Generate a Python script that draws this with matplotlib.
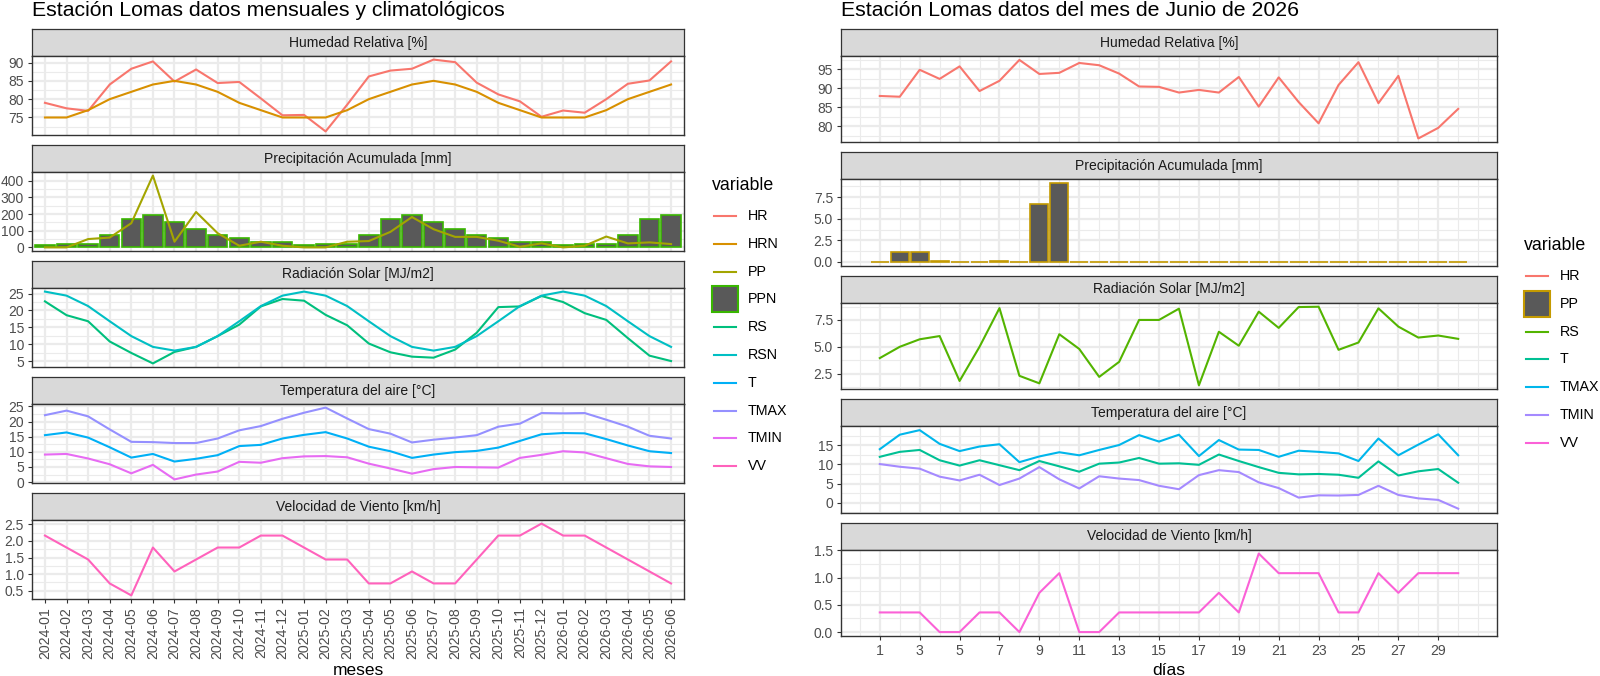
import matplotlib
matplotlib.use("Agg")
import matplotlib.pyplot as plt
from matplotlib.lines import Line2D
from matplotlib.patches import Rectangle

plt.rcParams["font.family"] = ["Liberation Sans", "DejaVu Sans"]

W, H = 1600, 676
DPI = 100

# --- datos mensuales (izquierda) ---
meses = ["2024-01", "2024-02", "2024-03", "2024-04", "2024-05", "2024-06",
         "2024-07", "2024-08", "2024-09", "2024-10", "2024-11", "2024-12",
         "2025-01", "2025-02", "2025-03", "2025-04", "2025-05", "2025-06",
         "2025-07", "2025-08", "2025-09", "2025-10", "2025-11", "2025-12",
         "2026-01", "2026-02", "2026-03", "2026-04", "2026-05", "2026-06"]
hr_m = [79.0, 77.5, 76.8, 84.0, 88.3, 90.3, 84.8, 88.1, 84.4, 84.7, 80.2, 75.6,
        75.7, 71.2, 78.5, 86.2, 87.8, 88.3, 90.8, 90.1, 84.5, 81.3, 79.4, 75.2,
        76.9, 76.3, 80.0, 84.2, 85.1, 90.3]
hrn_m = [75, 75, 77, 80, 82, 84, 85, 84, 82, 79, 77, 75,
         75, 75, 77, 80, 82, 84, 85, 84, 82, 79, 77, 75,
         75, 75, 77, 80, 82, 84]
pp_m = [0, 0, 50, 59, 145, 430, 34, 212, 85, 10, 34, 10,
        0, 0, 34, 38, 93, 182, 109, 63, 63, 40, 4, 24,
        0, 10, 65, 24, 30, 20]
ppn_m = [12, 20, 20, 77, 168, 196, 150, 113, 75, 55, 34, 34,
         12, 20, 20, 77, 168, 196, 150, 113, 75, 55, 34, 34,
         12, 20, 20, 77, 168, 196]
rs_m = [22.7, 18.6, 16.8, 10.8, 7.4, 4.3, 7.7, 9.2, 12.4, 15.8, 21.2, 23.4,
        22.9, 18.7, 15.6, 10.2, 7.6, 6.3, 6.0, 8.4, 13.4, 21.0, 21.2, 24.3,
        22.5, 19.2, 17.2, 11.8, 6.6, 5.0]
rsn_m = [25.6, 24.4, 21.3, 16.8, 12.4, 9.2, 8.1, 9.2, 12.4, 16.8, 21.3, 24.4,
         25.6, 24.4, 21.3, 16.8, 12.4, 9.2, 8.1, 9.2, 12.4, 16.8, 21.3, 24.4,
         25.6, 24.4, 21.3, 16.8, 12.4, 9.2]
t_m = [15.5, 16.4, 14.7, 11.5, 8.1, 9.3, 6.8, 7.7, 8.9, 11.9, 12.3, 14.4,
       15.6, 16.5, 14.4, 11.7, 10.2, 8.0, 9.1, 9.9, 10.3, 11.4, 13.6, 15.8,
       16.2, 16.1, 14.2, 12.1, 10.2, 9.6]
tmax_m = [22.1, 23.6, 21.7, 17.4, 13.3, 13.2, 12.9, 12.9, 14.4, 17.1, 18.5, 20.9,
          22.9, 24.6, 21.0, 17.5, 16.0, 13.1, 14.0, 14.7, 15.5, 18.3, 19.3, 22.8,
          22.7, 22.8, 20.6, 18.3, 15.3, 14.4]
tmin_m = [9.1, 9.3, 7.8, 5.9, 2.9, 5.7, 0.9, 2.5, 3.5, 6.7, 6.4, 7.9,
          8.5, 8.6, 8.2, 6.1, 4.5, 2.8, 4.3, 5.0, 4.9, 4.8, 8.0, 9.0,
          10.2, 9.8, 7.9, 6.0, 5.2, 5.0]
vv_m = [2.16, 1.80, 1.44, 0.72, 0.36, 1.80, 1.08, 1.44, 1.80, 1.80, 2.16, 2.16,
        1.80, 1.44, 1.44, 0.72, 0.72, 1.08, 0.72, 0.72, 1.44, 2.16, 2.16, 2.52,
        2.16, 2.16, 1.80, 1.44, 1.08, 0.72]

# --- datos diarios junio 2026 (derecha) ---
dias = list(range(1, 31))
hr_d = [88.0, 87.8, 94.9, 92.5, 95.8, 89.3, 92.0, 97.5, 93.8, 94.1,
        96.7, 96.1, 93.9, 90.5, 90.4, 88.9, 89.6, 88.9, 93.0, 85.2,
        92.9, 86.4, 80.8, 90.9, 96.9, 86.1, 93.3, 76.8, 79.6, 84.6]
pp_d = [0, 1.2, 1.2, 0.1, 0, 0, 0.15, 0, 6.7, 9.1,
        0, 0, 0, 0, 0, 0, 0, 0, 0, 0,
        0, 0, 0, 0, 0, 0, 0, 0, 0, 0]
rs_d = [3.95, 5.0, 5.7, 6.0, 1.82, 5.0, 8.6, 2.3, 1.6, 6.17,
        4.8, 2.2, 3.6, 7.5, 7.5, 8.55, 1.42, 6.4, 5.1, 8.27,
        6.76, 8.7, 8.73, 4.72, 5.4, 8.58, 6.88, 5.86, 6.05, 5.74]
t_d = [12.0, 13.3, 13.8, 11.1, 9.7, 11.1, 9.8, 8.5, 10.9, 9.5,
       8.1, 10.2, 10.5, 11.7, 10.2, 10.3, 9.9, 12.6, 10.9, 9.3,
       7.8, 7.4, 7.5, 7.3, 6.5, 10.8, 7.1, 8.2, 8.8, 5.2]
tmax_d = [14.0, 17.8, 19.0, 15.4, 13.5, 14.7, 15.3, 10.6, 12.1, 13.2,
          12.4, 13.8, 15.1, 17.7, 16.0, 17.8, 12.2, 16.4, 13.9, 13.8,
          12.0, 13.6, 13.3, 12.9, 10.9, 16.8, 12.4, 15.2, 17.9, 12.4]
tmin_d = [10.1, 9.4, 8.9, 6.8, 5.8, 7.3, 4.6, 6.3, 9.3, 6.1,
          3.7, 6.9, 6.3, 5.9, 4.4, 3.5, 7.2, 8.5, 8.0, 5.3,
          3.8, 1.3, 1.9, 1.85, 2.0, 4.4, 2.0, 1.1, 0.7, -1.6]
vv_d = [0.36, 0.36, 0.36, 0, 0, 0.36, 0.36, 0, 0.72, 1.08,
        0, 0, 0.36, 0.36, 0.36, 0.36, 0.36, 0.72, 0.36, 1.44,
        1.08, 1.08, 1.08, 0.36, 0.36, 1.08, 0.72, 1.08, 1.08, 1.08]

# --- paleta (ggplot hue) ---
COL_L = {"HR": "#F8766D", "HRN": "#D89000", "PP": "#A3A500", "PPN": "#39B600",
         "RS": "#00BF7D", "RSN": "#00BFC4", "T": "#00B0F6", "TMAX": "#9590FF",
         "TMIN": "#E76BF3", "VV": "#FF62BC"}
COL_R = {"HR": "#F8766D", "PP": "#C49A00", "RS": "#53B400", "T": "#00C094",
         "TMAX": "#00B6EB", "TMIN": "#A58AFF", "VV": "#FB61D7"}
BAR_FILL = "#595959"
STRIP_BG = "#D9D9D9"
BORDER = "#333333"
GRID = "#EBEBEB"
TICK_TXT = "#4D4D4D"
LW = 1.5

TITLES = ["Humedad Relativa [%]", "Precipitación Acumulada [mm]",
          "Radiación Solar [MJ/m2]", "Temperatura del aire [°C]",
          "Velocidad de Viento [km/h]"]


def px_axes(fig, x0, y0, x1, y1):
    """Axes placed by pixel box (origin top-left)."""
    return fig.add_axes([x0 / W, 1 - y1 / H, (x1 - x0) / W, (y1 - y0) / H])


def facet(fig, x0, x1, top, strip_h, panel_h, label):
    strip = px_axes(fig, x0, top, x1, top + strip_h)
    strip.set_facecolor(STRIP_BG)
    strip.set_xticks([])
    strip.set_yticks([])
    for s in strip.spines.values():
        s.set_color(BORDER)
        s.set_linewidth(0.9)
    strip.text(0.5, 0.5, label, ha="center", va="center", fontsize=10,
               color="#1A1A1A", transform=strip.transAxes)
    ax = px_axes(fig, x0, top + strip_h, x1, top + strip_h + panel_h)
    for s in ax.spines.values():
        s.set_color(BORDER)
        s.set_linewidth(1.0)
    ax.set_axisbelow(True)
    return ax


def y_scale(ax, series, majors, fmt, include_zero=False):
    vals = [v for s in series for v in s]
    lo, hi = min(vals), max(vals)
    if include_zero:
        lo = min(lo, 0)
    pad = 0.05 * (hi - lo)
    lo, hi = lo - pad, hi + pad
    ax.set_ylim(lo, hi)
    step = majors[1] - majors[0]
    minors = [m - step / 2 for m in majors] + [majors[-1] + step / 2]
    ax.set_yticks(majors)
    ax.set_yticklabels([fmt.format(m) for m in majors])
    ax.set_yticks([m for m in minors if lo < m < hi], minor=True)
    ax.tick_params(axis="y", which="major", length=3.2, width=0.8,
                   color=BORDER, labelsize=10, labelcolor=TICK_TXT, pad=2.5)
    ax.tick_params(axis="y", which="minor", length=0)
    ax.grid(which="major", color=GRID, linewidth=1.6)
    ax.grid(which="minor", color=GRID, linewidth=0.8)


fig = plt.figure(figsize=(W / DPI, H / DPI), dpi=DPI)
fig.patch.set_facecolor("white")

# ---------------- izquierda ----------------
LX0, LX1, LTOP, SH, LPH, GAP = 32, 684, 29, 27, 79, 10
xm = list(range(len(meses)))
left_axes = []
for i, title in enumerate(TITLES):
    top = LTOP + i * (SH + LPH + GAP)
    ax = facet(fig, LX0, LX1, top, SH, LPH, title)
    ax.set_xlim(-0.6, len(meses) - 0.4)
    ax.set_xticks(xm)
    if i < 4:
        ax.tick_params(axis="x", which="both", length=0, labelbottom=False)
    left_axes.append(ax)

ax = left_axes[0]
ax.plot(xm, hr_m, color=COL_L["HR"], lw=LW)
ax.plot(xm, hrn_m, color=COL_L["HRN"], lw=LW)
y_scale(ax, [hr_m, hrn_m], [75, 80, 85, 90], "{:.0f}")

ax = left_axes[1]
ax.bar(xm, ppn_m, width=0.9, color=BAR_FILL, edgecolor=COL_L["PPN"], linewidth=1.2)
ax.plot(xm, pp_m, color=COL_L["PP"], lw=LW)
y_scale(ax, [pp_m, ppn_m], [0, 100, 200, 300, 400], "{:.0f}", include_zero=True)

ax = left_axes[2]
ax.plot(xm, rs_m, color=COL_L["RS"], lw=LW)
ax.plot(xm, rsn_m, color=COL_L["RSN"], lw=LW)
y_scale(ax, [rs_m, rsn_m], [5, 10, 15, 20, 25], "{:.0f}")

ax = left_axes[3]
ax.plot(xm, t_m, color=COL_L["T"], lw=LW)
ax.plot(xm, tmax_m, color=COL_L["TMAX"], lw=LW)
ax.plot(xm, tmin_m, color=COL_L["TMIN"], lw=LW)
y_scale(ax, [t_m, tmax_m, tmin_m], [0, 5, 10, 15, 20, 25], "{:.0f}")

ax = left_axes[4]
ax.plot(xm, vv_m, color=COL_L["VV"], lw=LW)
y_scale(ax, [vv_m], [0.5, 1.0, 1.5, 2.0, 2.5], "{:.1f}")
ax.set_xticklabels(meses, rotation=90)
ax.tick_params(axis="x", length=3.2, width=0.8, color=BORDER,
               labelsize=10.2, labelcolor=TICK_TXT, pad=2.5)

# ---------------- derecha ----------------
RX0, RX1, RTOP, RPH = 841, 1497, 29, 86.4
right_axes = []
for i, title in enumerate(TITLES):
    top = RTOP + i * (SH + RPH + GAP)
    ax = facet(fig, RX0, RX1, top, SH, RPH, title)
    ax.set_xlim(dias[0] - 0.45 - 0.05 * 29.9, dias[-1] + 0.45 + 0.05 * 29.9)
    ax.set_xticks(dias[::2])
    ax.set_xticks(list(range(0, 31, 2)) + [31], minor=True)
    ax.tick_params(axis="x", which="minor", length=0)
    if i < 4:
        ax.tick_params(axis="x", which="both", length=0, labelbottom=False)
    right_axes.append(ax)

ax = right_axes[0]
ax.plot(dias, hr_d, color=COL_R["HR"], lw=LW)
y_scale(ax, [hr_d], [80, 85, 90, 95], "{:.0f}")

ax = right_axes[1]
ax.bar(dias, pp_d, width=0.9, color=BAR_FILL, edgecolor=COL_R["PP"], linewidth=1.2)
y_scale(ax, [pp_d], [0, 2.5, 5.0, 7.5], "{:.1f}", include_zero=True)

ax = right_axes[2]
ax.plot(dias, rs_d, color=COL_R["RS"], lw=LW)
y_scale(ax, [rs_d], [2.5, 5.0, 7.5], "{:.1f}")

ax = right_axes[3]
ax.plot(dias, t_d, color=COL_R["T"], lw=LW)
ax.plot(dias, tmax_d, color=COL_R["TMAX"], lw=LW)
ax.plot(dias, tmin_d, color=COL_R["TMIN"], lw=LW)
y_scale(ax, [t_d, tmax_d, tmin_d], [0, 5, 10, 15], "{:.0f}")

ax = right_axes[4]
ax.plot(dias, vv_d, color=COL_R["VV"], lw=LW)
y_scale(ax, [vv_d], [0.0, 0.5, 1.0, 1.5], "{:.1f}")
ax.tick_params(axis="x", length=3.2, width=0.8, color=BORDER,
               labelsize=10.2, labelcolor=TICK_TXT, pad=2.5)

# ---------------- títulos y leyendas ----------------
ov = fig.add_axes([0, 0, 1, 1])
ov.set_xlim(0, W)
ov.set_ylim(H, 0)
ov.axis("off")
ov.patch.set_alpha(0)

ov.text(LX0, 16, "Estación Lomas datos mensuales y climatológicos",
        fontsize=15.3, va="baseline", ha="left")
ov.text(RX0, 16, "Estación Lomas datos del mes de Junio de 2026",
        fontsize=15.3, va="baseline", ha="left")
ov.text((LX0 + LX1) / 2, 675, "meses", fontsize=12.5, ha="center", va="baseline")
ov.text((RX0 + RX1) / 2, 675, "días", fontsize=12.5, ha="center", va="baseline")


def legend(x_title, y_title, y_first, keys, colors, bar_key, bar_edge):
    ov.text(x_title, y_title, "variable", fontsize=12.8, ha="left", va="center")
    kx = x_title + 1
    for k, name in enumerate(keys):
        y = y_first + k * 27.8
        if name == bar_key:
            ov.add_patch(Rectangle((kx - 1, y - 13), 26, 26, facecolor=BAR_FILL,
                                   edgecolor=bar_edge, linewidth=1.5))
        else:
            ov.add_line(Line2D([kx + 1, kx + 23], [y, y], color=colors[name], lw=LW))
        ov.text(kx + 35, y, name, fontsize=10.3, ha="left", va="center")


legend(712, 185, 216, list(COL_L), COL_L, "PPN", COL_L["PPN"])
legend(1524, 245, 276, list(COL_R), COL_R, "PP", COL_R["PP"])

fig.savefig("out.png", dpi=DPI, facecolor="white")
